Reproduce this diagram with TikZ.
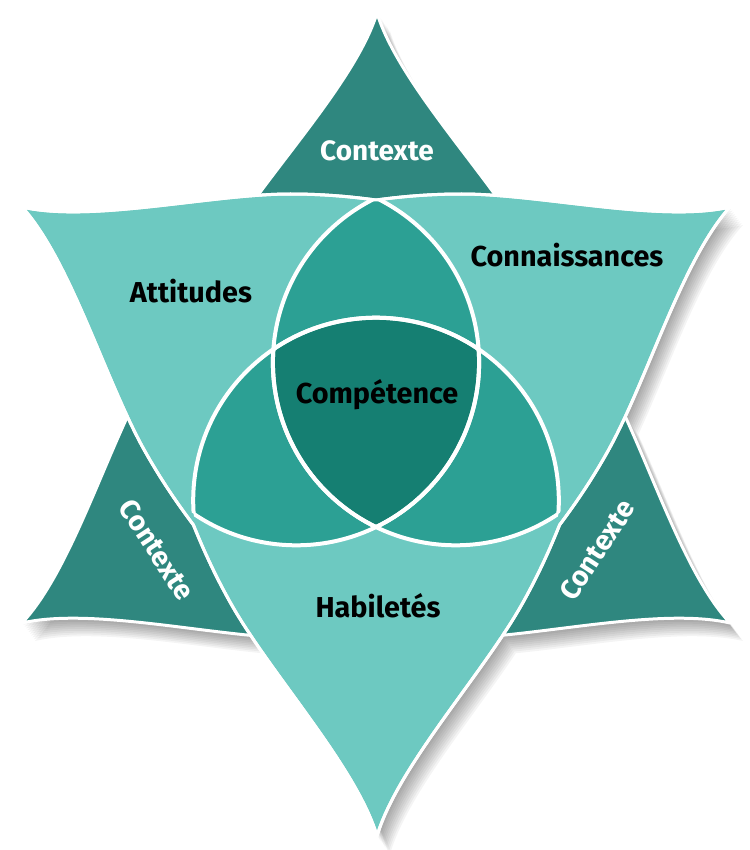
\documentclass[tikz,border=0pt]{standalone}
\usepackage{fontspec}
\setmainfont{Fira Sans}
\usetikzlibrary{calc}
\definecolor{lightteal}{RGB}{109,201,193}
\definecolor{darktri}{RGB}{47,135,127}
\definecolor{midteal}{RGB}{44,160,148}
\definecolor{coreteal}{RGB}{21,127,114}
\tikzset{
  ledge/.style 2 args={insert path={
    .. controls ($(#1)!0.098!(#2)!16pt!-90:(#2)$) and ($(#1)!0.267!(#2)!13pt!90:(#2)$) .. ($(#1)!0.379!(#2)!13pt!90:(#2)$)
    .. controls ($(#1)!0.435!(#2)!13pt!90:(#2)$) and ($(#1)!0.478!(#2)!9pt!90:(#2)$) .. ($(#1)!0.5!(#2)!7pt!90:(#2)$)
    .. controls ($(#1)!0.522!(#2)!9pt!90:(#2)$) and ($(#1)!0.565!(#2)!13pt!90:(#2)$) .. ($(#1)!0.621!(#2)!13pt!90:(#2)$)
    .. controls ($(#1)!0.733!(#2)!13pt!90:(#2)$) and ($(#1)!0.902!(#2)!16pt!-90:(#2)$) .. (#2)}},
  dedge/.style 2 args={insert path={
    .. controls ($(#1)!0.098!(#2)!16pt!-90:(#2)$) and ($(#1)!0.267!(#2)!13pt!90:(#2)$) .. ($(#1)!0.379!(#2)!15pt!90:(#2)$)
    .. controls ($(#1)!0.44!(#2)!16pt!90:(#2)$) and ($(#1)!0.56!(#2)!16pt!90:(#2)$) .. ($(#1)!0.621!(#2)!15pt!90:(#2)$)
    .. controls ($(#1)!0.733!(#2)!13pt!90:(#2)$) and ($(#1)!0.902!(#2)!16pt!-90:(#2)$) .. (#2)}},
  outline/.style={draw=white, line width=3pt, line join=round},
  arc/.style={draw=white, line width=4pt},
  lbl/.style={text=black, font=\fontsize{28.8}{32}\selectfont\bfseries, inner sep=0pt, anchor=base},
  ctx/.style={text=white, font=\fontsize{28}{31}\selectfont\bfseries, inner sep=0pt}
}
\begin{document}
\begin{tikzpicture}[x=1pt, y=-1pt]
\useasboundingbox (0,0) rectangle (749,850);
% triangle corners
\coordinate (LTL) at (22,207);
\coordinate (LTR) at (730,207);
\coordinate (LB) at (377,836);
\coordinate (DA) at (377,13);
\coordinate (DR) at (730,623);
\coordinate (DL) at (22,623);
% circle centres
\coordinate (CL) at (296.3,362.5);
\coordinate (CR) at (455.7,362.5);
\coordinate (CB) at (376,500.5);
\def\rr{182.8pt}
% soft shadow
\foreach \i in {1,...,10}{
  \begin{scope}[transform canvas={shift={({1.3pt*\i},{-1.8pt*\i})}}]
    \fill[black, opacity=0.045, nonzero rule]
      (DA) [dedge={DA}{DR}] [dedge={DR}{DL}] [dedge={DL}{DA}] -- cycle
      (LTL) [ledge={LTL}{LTR}] [ledge={LTR}{LB}] [ledge={LB}{LTL}] -- cycle;
  \end{scope}
}
% dark triangle
\path[fill=darktri, outline] (DA) [dedge={DA}{DR}] [dedge={DR}{DL}] [dedge={DL}{DA}] -- cycle;
% light triangle
\path[fill=lightteal, outline] (LTL) [ledge={LTL}{LTR}] [ledge={LTR}{LB}] [ledge={LB}{LTL}] -- cycle;
% Venn
\begin{scope}
  \clip (LTL) [ledge={LTL}{LTR}] [ledge={LTR}{LB}] [ledge={LB}{LTL}] -- cycle;
  \begin{scope}\clip (CL) circle[radius=\rr]; \fill[midteal] (CR) circle[radius=\rr]; \fill[midteal] (CB) circle[radius=\rr];\end{scope}
  \begin{scope}\clip (CR) circle[radius=\rr]; \fill[midteal] (CB) circle[radius=\rr];\end{scope}
  \begin{scope}\clip (CL) circle[radius=\rr]; \clip (CR) circle[radius=\rr]; \fill[coreteal] (CB) circle[radius=\rr];\end{scope}
  \begin{scope}\clip (CL) circle[radius=\rr]; \path[arc] (CR) circle[radius=\rr]; \path[arc] (CB) circle[radius=\rr];\end{scope}
  \begin{scope}\clip (CR) circle[radius=\rr]; \path[arc] (CL) circle[radius=\rr]; \path[arc] (CB) circle[radius=\rr];\end{scope}
  \begin{scope}\clip (CB) circle[radius=\rr]; \path[arc] (CL) circle[radius=\rr]; \path[arc] (CR) circle[radius=\rr];\end{scope}
\end{scope}
\path[outline] (LTL) [ledge={LTL}{LTR}] [ledge={LTR}{LB}] [ledge={LB}{LTL}] -- cycle;
% labels
\node[lbl] (att) at (191,302) {Attitudes};
\node[lbl] (con) at (567,266) {Connaissances};
\node[lbl] (comp) at (377,403) {Compétence};
\node[lbl] (hab) at (378,617) {Habiletés};
\node[ctx, anchor=base] (ctxT) at (377,161) {Contexte};
\node[ctx, rotate=-57] (ctxL) at (157,550) {Contexte};
\node[ctx, rotate=57] (ctxR) at (597,550) {Contexte};
\end{tikzpicture}
\end{document}
